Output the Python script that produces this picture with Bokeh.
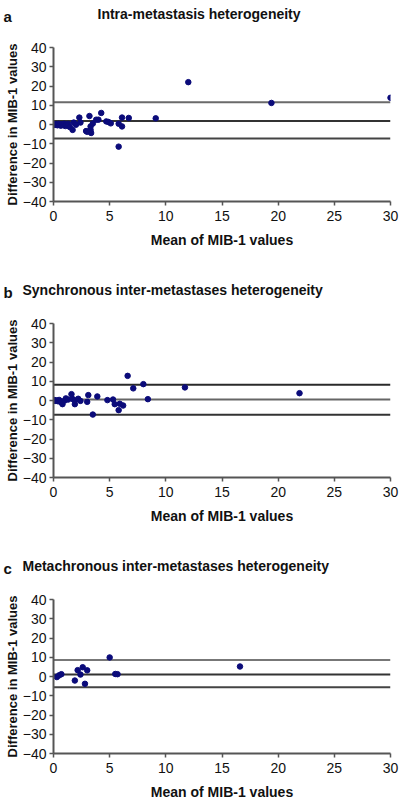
from bokeh.plotting import figure
from bokeh.layouts import column
from bokeh.models import Range1d
from bokeh.embed import file_html
from bokeh.resources import INLINE
from bokeh.core.properties import value

# ---------------- data ----------------
x_ticks = [0, 5, 10, 15, 20, 25, 30]
y_ticks = [-40, -30, -20, -10, 0, 10, 20, 30, 40]

a_mean = [0.05, 0.15, 0.25, 0.35, 0.45, 0.55, 0.65, 0.75, 0.85, 0.95, 1.05, 1.15, 1.3, 1.45,
          1.7, 1.8, 2.0, 2.3, 2.4, 2.9, 3.0, 3.2, 3.3, 3.3, 3.35, 3.5, 3.8, 4.0, 4.25, 4.7,
          4.9, 5.1, 5.8, 5.8, 6.1, 6.1, 6.7, 9.1, 12.0, 19.4, 30.0]
a_diff = [0.2, -0.2, 0.1, -0.4, 0.3, -0.1, -0.6, 0.2, -0.3, 0.4, -0.8, -0.2, 0.3, -1.3,
          -2.8, 1.0, -0.1, 3.6, 1.0, -3.4, -3.8, 4.4, -2.8, -1.0, -4.4, 0.5, 2.5, 2.5, 6.0, 1.6,
          1.3, 0.6, 0.4, -11.5, 3.6, -1.0, 3.4, 3.2, 22.0, 11.2, 13.9]
a_limits = [11.6, 1.8, -7.3]

b_mean = [0.05, 0.1, 0.2, 0.3, 0.4, 0.5, 0.6, 0.7, 0.8, 1.0, 1.1, 1.3, 1.6, 1.7, 1.9, 1.9,
          2.2, 2.4, 3.0, 3.1, 3.5, 3.9, 4.8, 5.3, 5.45, 5.8, 5.9, 6.2, 6.6, 7.1, 8.0, 8.4,
          11.7, 21.9]
b_diff = [0.0, 0.2, -0.2, 0.0, -0.4, 0.3, -0.5, -1.0, -1.9, 0.0, 1.1, 0.5, 3.3, 0.8, -1.9, 0.0,
          0.9, -0.2, -0.7, 2.8, -7.3, 2.1, 0.2, 0.5, -1.9, -5.0, -1.7, -2.6, 12.8, 6.3, 8.5, 0.7,
          6.8, 3.8]
b_limits = [8.2, 0.5, -7.4]

c_mean = [0.3, 0.5, 0.7, 1.9, 2.15, 2.4, 2.6, 2.8, 3.0, 5.0, 5.5, 5.7, 16.6]
c_diff = [-0.3, 0.6, 1.2, -2.1, 3.3, 1.0, 4.8, -3.8, 3.2, 9.9, 1.3, 1.2, 5.2]
c_limits = [8.6, 1.0, -5.6]

titles = ["Intra-metastasis heterogeneity",
          "Synchronous inter-metastases heterogeneity",
          "Metachronous inter-metastases heterogeneity"]
letters = ["a", "b", "c"]
x_label = "Mean of MIB-1 values"
y_label = "Difference in MIB-1 values"

# ---------------- styling / layout ----------------
FONT = "Liberation Sans"
W = 407
HEAD_H = 30
FRAME_TOP = 17
FRAME_H = 154
FRAME_LEFT = 53
FRAME_RIGHT_BORDER = 17


def header(letter, title, title_left):
    h = figure(width=W, height=HEAD_H, x_range=Range1d(0, W), y_range=Range1d(HEAD_H, 0),
               output_backend="svg", toolbar_location=None, title=None, min_border=0,
               x_axis_type=None, y_axis_type=None, frame_align=False)
    h.outline_line_color = None
    h.grid.visible = False
    h.text(x=[3], y=[16], text=[letter], text_font=value(FONT), text_font_style="bold",
           text_font_size="15px", text_align="left", text_baseline="alphabetic",
           text_color="#111111")
    h.text(x=[title_left], y=[13.5], text=[title], text_font=value(FONT),
           text_font_style="bold", text_font_size="14px", text_align="left",
           text_baseline="alphabetic", text_color="#111111")
    return h


def panel(xs, ys, limits, line_colors, height):
    p = figure(width=W, height=height, x_range=Range1d(x_ticks[0], x_ticks[-1]),
               y_range=Range1d(y_ticks[0], y_ticks[-1]), output_backend="svg",
               toolbar_location=None, title=None, frame_align=False,
               min_border_left=FRAME_LEFT, min_border_right=FRAME_RIGHT_BORDER,
               min_border_top=FRAME_TOP,
               min_border_bottom=height - FRAME_TOP - FRAME_H)
    p.outline_line_color = None
    p.grid.visible = False

    for ax in (p.xaxis, p.yaxis):
        ax.axis_line_color = "#555555"
        ax.axis_line_width = 2
        ax.major_tick_line_color = "#555555"
        ax.major_tick_line_width = 1.5
        ax.major_tick_in = 0
        ax.major_tick_out = 4
        ax.minor_tick_line_color = None
        ax.major_label_text_font = FONT
        ax.major_label_text_font_size = "14px"
        ax.major_label_text_color = "#111111"
        ax.axis_label_text_font = FONT
        ax.axis_label_text_font_style = "bold"
        ax.axis_label_text_color = "#111111"
    p.xaxis.ticker = x_ticks
    p.yaxis.ticker = y_ticks
    p.xaxis.major_label_standoff = 5
    p.yaxis.major_label_standoff = 3
    p.xaxis.axis_label = x_label
    p.xaxis.axis_label_text_font_size = "14px"
    p.xaxis.axis_label_standoff = 8
    p.yaxis.axis_label = y_label
    p.yaxis.axis_label_text_font_size = "13px"
    p.yaxis.axis_label_standoff = 0

    # mean difference and limits of agreement
    p.segment(x0=[x_ticks[0]] * len(limits), x1=[x_ticks[-1]] * len(limits),
              y0=limits, y1=limits, line_color=line_colors, line_width=2)

    p.scatter(xs, ys, size=5.5, fill_color="#0b0b7a", line_color="#0b0b7a")
    return p


ha = header(letters[0], titles[0], 97)
pa = panel(a_mean, a_diff, a_limits, ["#6a6a6a", "#333333", "#444444"], 246)
hb = header(letters[1], titles[1], 22)
pb = panel(b_mean, b_diff, b_limits, ["#2a2a2a", "#666666", "#333333"], 246)
hc = header(letters[2], titles[2], 22)
pc = panel(c_mean, c_diff, c_limits, ["#777777", "#333333", "#444444"], 222)

layout = column(ha, pa, hb, pb, hc, pc, spacing=0)
open("out.html", "w").write(file_html(layout, INLINE))
